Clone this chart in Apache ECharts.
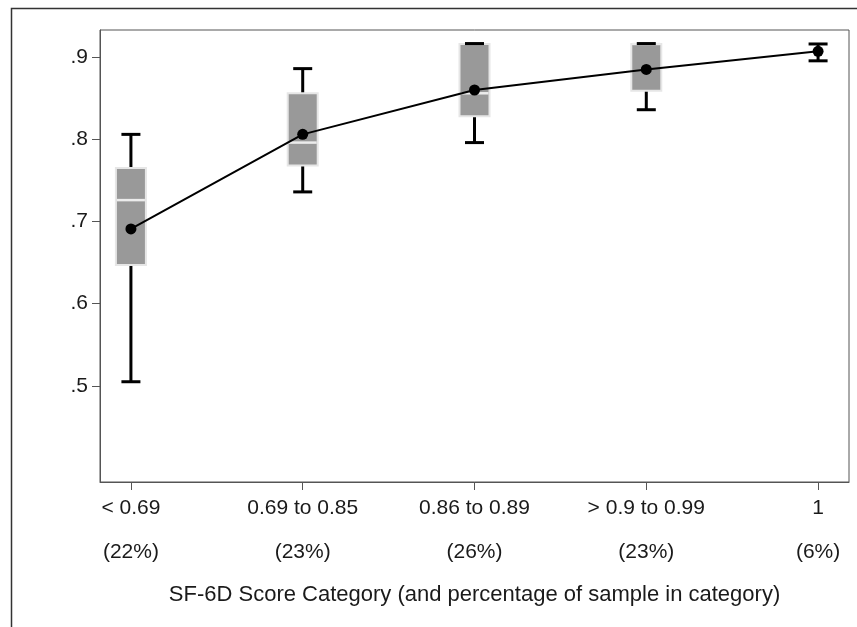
<!DOCTYPE html>
<html>
<head>
<meta charset="utf-8">
<script src="https://cdn.jsdelivr.net/npm/echarts@6/dist/echarts.min.js"></script>
<style>
html,body{margin:0;padding:0;background:#fff;}
#c{width:857px;height:627px;}
</style>
</head>
<body>
<div id="c"></div>
<script>
// Categories and labels
const categories = ['< 0.69', '0.69 to 0.85', '0.86 to 0.89', '> 0.9 to 0.99', '1'];
const percents = ['(22%)', '(23%)', '(26%)', '(23%)', '(6%)'];
const yTicks = [0.5, 0.6, 0.7, 0.8, 0.9];
// Box statistics per category: [low whisker, q1, median, q3, high whisker]
const lowWhisker = [0.505, 0.736, 0.796, 0.836, 0.8955];
const q1 = [0.647, 0.768, 0.828, 0.859, 0.916];
const median = [0.726, 0.796, 0.856, 0.916, 0.916];
const q3 = [0.765, 0.856, 0.916, 0.916, 0.916];
const highWhisker = [0.806, 0.886, 0.9165, 0.9165, 0.916];
// Mean values (connected line)
const means = [0.691, 0.806, 0.860, 0.885, 0.907];

const boxData = categories.map((c, i) => [i + 1, lowWhisker[i], q1[i], median[i], q3[i], highWhisker[i]]);
const meanData = categories.map((c, i) => [i + 1, means[i]]);

const chart = echarts.init(document.getElementById('c'));
const textColor = '#1a1a1a';
const font = 'Liberation Sans, Arial, sans-serif';

chart.setOption({
  animation: false,
  backgroundColor: '#fff',
  grid: { left: 100, top: 30, right: 8, bottom: 145, show: true, borderColor: '#555', borderWidth: 1, containLabel: false },
  graphic: [
    { type: 'polyline', shape: { points: [[11.5, 627], [11.5, 8.5], [857, 8.5]] }, style: { stroke: '#333', lineWidth: 1.5, fill: null }, silent: true }
  ],
  xAxis: {
    type: 'value', min: 0.82, max: 5.18,
    splitLine: { show: false },
    axisLine: { show: true, lineStyle: { color: '#555', width: 1 } },
    axisTick: { show: true, length: 8, lineStyle: { color: '#555' }, customValues: [1, 2, 3, 4, 5] },
    axisLabel: {
      customValues: [1, 2, 3, 4, 5],
      color: textColor, fontSize: 21, fontFamily: font, lineHeight: 44, margin: 4,
      formatter: v => categories[Math.round(v) - 1] + '\n' + percents[Math.round(v) - 1]
    },
    name: 'SF-6D Score Category (and percentage of sample in category)',
    nameLocation: 'middle', nameGap: 102,
    nameTextStyle: { color: textColor, fontSize: 22, fontFamily: font }
  },
  yAxis: {
    type: 'value', min: 0.383, max: 0.933,
    splitLine: { show: false },
    axisLine: { show: true, lineStyle: { color: '#555', width: 1 } },
    axisTick: { show: true, length: 8, lineStyle: { color: '#555' }, customValues: yTicks },
    axisLabel: {
      customValues: yTicks,
      color: textColor, fontSize: 21, fontFamily: font, margin: 12,
      formatter: v => v.toFixed(1).replace(/^0/, '')
    }
  },
  series: [
    {
      type: 'custom',
      data: boxData,
      encode: { x: 0, y: [1, 2, 3, 4, 5] },
      z: 2,
      renderItem: function (params, api) {
        const x = api.value(0);
        const pLow = api.coord([x, api.value(1)]);
        const pQ1 = api.coord([x, api.value(2)]);
        const pMed = api.coord([x, api.value(3)]);
        const pQ3 = api.coord([x, api.value(4)]);
        const pHigh = api.coord([x, api.value(5)]);
        const cx = pLow[0];
        const bw = 30, cw = 19;
        const children = [];
        // whisker stems
        children.push({ type: 'line', shape: { x1: cx, y1: pHigh[1], x2: cx, y2: pQ3[1] }, style: { stroke: '#000', lineWidth: 3 } });
        children.push({ type: 'line', shape: { x1: cx, y1: pQ1[1], x2: cx, y2: pLow[1] }, style: { stroke: '#000', lineWidth: 3 } });
        const h = pQ1[1] - pQ3[1];
        if (h >= 1) {
          children.push({ type: 'rect', shape: { x: cx - bw / 2, y: pQ3[1], width: bw, height: h }, style: { fill: '#999999', stroke: '#e6e6e6', lineWidth: 2 } });
          children.push({ type: 'line', shape: { x1: cx - bw / 2 + 1, y1: pMed[1], x2: cx + bw / 2 - 1, y2: pMed[1] }, style: { stroke: '#ececec', lineWidth: 2.5 } });
        }
        // caps
        children.push({ type: 'line', shape: { x1: cx - cw / 2, y1: pHigh[1], x2: cx + cw / 2, y2: pHigh[1] }, style: { stroke: '#000', lineWidth: 3 } });
        children.push({ type: 'line', shape: { x1: cx - cw / 2, y1: pLow[1], x2: cx + cw / 2, y2: pLow[1] }, style: { stroke: '#000', lineWidth: 3 } });
        return { type: 'group', children: children };
      }
    },
    {
      type: 'line',
      data: meanData,
      z: 5,
      symbol: 'circle', symbolSize: 11,
      itemStyle: { color: '#000' },
      lineStyle: { color: '#000', width: 2 }
    }
  ]
});
</script>
</body>
</html>
